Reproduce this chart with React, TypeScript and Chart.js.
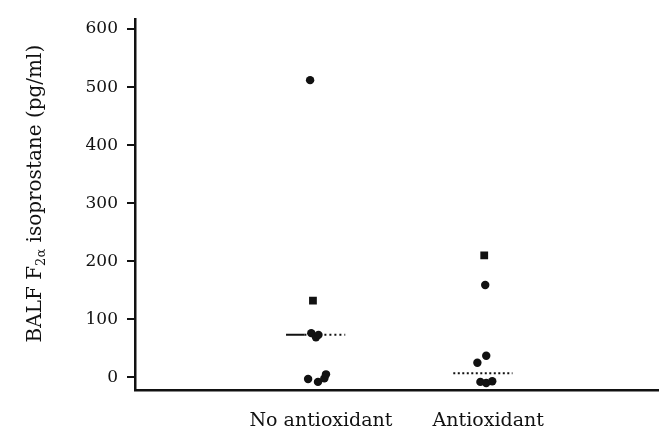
import { useEffect, useRef } from "react";
import { Chart, registerables } from "chart.js";

Chart.register(...registerables);

// ---- data ----
const categories = ["No antioxidant", "Antioxidant"];
const categoryPos = [1, 2];
const yTicks = [0, 100, 200, 300, 400, 500, 600];

// No antioxidant group
const noAntiValues = [512, 132, 76, 69, 73, -3, -8, -2, 5];
const noAntiJitter = [-0.065, -0.048, -0.058, -0.03, -0.015, -0.077, -0.018, 0.02, 0.03];
const noAntiMarker = ["circle", "rect", "circle", "circle", "circle", "circle", "circle", "circle", "circle"];

// Antioxidant group
const antiValues = [210, 159, 37, 25, -8, -10, -7];
const antiJitter = [-0.024, -0.018, -0.012, -0.065, -0.047, -0.012, 0.024];
const antiMarker = ["rect", "circle", "circle", "circle", "circle", "circle", "circle"];

// medians
const medians = [73, 7];
const medianOffset = -0.032;
const medianHalfWidth = 0.177;

const yTitleMain = "BALF F";
const yTitleSub = "2α";
const yTitleRest = " isoprostane (pg/ml)";

const FONT = "'DejaVu Serif', 'Liberation Serif', serif";
const INK = "#111";

const titlePlugin = {
  id: "yTitleSub",
  afterDraw(chart: any) {
    const ctx = chart.ctx;
    const ya = chart.scales.y;
    const cy = (ya.top + ya.bottom) / 2 - 11;
    ctx.save();
    ctx.translate(41, cy);
    ctx.rotate(-Math.PI / 2);
    ctx.fillStyle = INK;
    ctx.textBaseline = "alphabetic";
    const big = `20px ${FONT}`;
    const small = `13px ${FONT}`;
    ctx.font = big;
    const w1 = ctx.measureText(yTitleMain).width;
    const w3 = ctx.measureText(yTitleRest).width;
    ctx.font = small;
    const w2 = ctx.measureText(yTitleSub).width;
    let x = -(w1 + w2 + w3) / 2;
    ctx.font = big;
    ctx.fillText(yTitleMain, x, 0);
    x += w1;
    ctx.font = small;
    ctx.fillText(yTitleSub, x, 4);
    x += w2;
    ctx.font = big;
    ctx.fillText(yTitleRest, x, 0);
    ctx.restore();
  },
};

export default function App() {
  const ref = useRef<HTMLCanvasElement | null>(null);

  useEffect(() => {
    if (!ref.current) return;
    const noAnti = noAntiValues.map((v, i) => ({ x: categoryPos[0] + noAntiJitter[i], y: v }));
    const anti = antiValues.map((v, i) => ({ x: categoryPos[1] + antiJitter[i], y: v }));
    const m0c = categoryPos[0] + medianOffset;
    const m1c = categoryPos[1] + medianOffset;
    const median0 = [
      { x: m0c - medianHalfWidth, y: medians[0] },
      { x: m0c - medianHalfWidth * 0.38, y: medians[0] },
      { x: m0c + medianHalfWidth, y: medians[0] },
    ];
    const median1 = [
      { x: m1c - medianHalfWidth, y: medians[1] },
      { x: m1c + medianHalfWidth, y: medians[1] },
    ];

    const chart = new Chart(ref.current, {
      type: "scatter",
      data: {
        datasets: [
          {
            type: "line",
            data: median0,
            borderColor: INK,
            borderWidth: 2,
            pointRadius: 0,
            segment: {
              borderDash: (c: any) => (c.p0DataIndex === 0 ? [] : [2, 3]),
            },
          } as any,
          {
            type: "line",
            data: median1,
            borderColor: INK,
            borderWidth: 2,
            borderDash: [2, 2.5],
            pointRadius: 0,
          } as any,
          {
            data: noAnti,
            backgroundColor: INK,
            borderColor: INK,
            pointStyle: noAntiMarker as any,
            pointRadius: noAntiMarker.map((m) => (m === "rect" ? 5.5 : 4.2)),
            borderWidth: 0,
          },
          {
            data: anti,
            backgroundColor: INK,
            borderColor: INK,
            pointStyle: antiMarker as any,
            pointRadius: antiMarker.map((m) => (m === "rect" ? 5.5 : 4.2)),
            borderWidth: 0,
          },
        ],
      },
      options: {
        animation: false,
        responsive: false,
        events: [],
        layout: { padding: { left: 0, right: -6, top: 12, bottom: 0 } },
        plugins: { legend: { display: false }, tooltip: { enabled: false }, title: { display: false } },
        scales: {
          x: {
            type: "linear",
            min: -0.112,
            max: 3.018,
            afterBuildTicks: (s: any) => {
              s.ticks = categoryPos.map((v) => ({ value: v }));
            },
            afterFit: (s: any) => {
              s.height = 53;
            },
            grid: { drawOnChartArea: false, drawTicks: false },
            border: { color: INK, width: 2.5 },
            ticks: {
              padding: 20,
              color: INK,
              font: { family: FONT, size: 19 },
              maxRotation: 0,
              autoSkip: false,
              callback: (v: any) => {
                const i = categoryPos.indexOf(Number(v));
                return i >= 0 ? categories[i] : "";
              },
            },
          },
          y: {
            type: "linear",
            min: -22,
            max: 617,
            afterBuildTicks: (s: any) => {
              s.ticks = yTicks.map((v) => ({ value: v }));
            },
            afterFit: (s: any) => {
              s.width = 135;
            },
            grid: { drawOnChartArea: false, drawTicks: true, tickLength: 8, color: INK, lineWidth: 2 },
            border: { color: INK, width: 2.5 },
            ticks: {
              padding: 9,
              color: INK,
              font: { family: FONT, size: 17 },
              autoSkip: false,
            },
          },
        },
      },
      plugins: [titlePlugin],
    });
    return () => chart.destroy();
  }, []);

  return (
    <div style={{ position: "absolute", left: 0, top: 0, width: 664, height: 443, background: "#fff" }}>
      <canvas ref={ref} width={664} height={443} />
    </div>
  );
}
